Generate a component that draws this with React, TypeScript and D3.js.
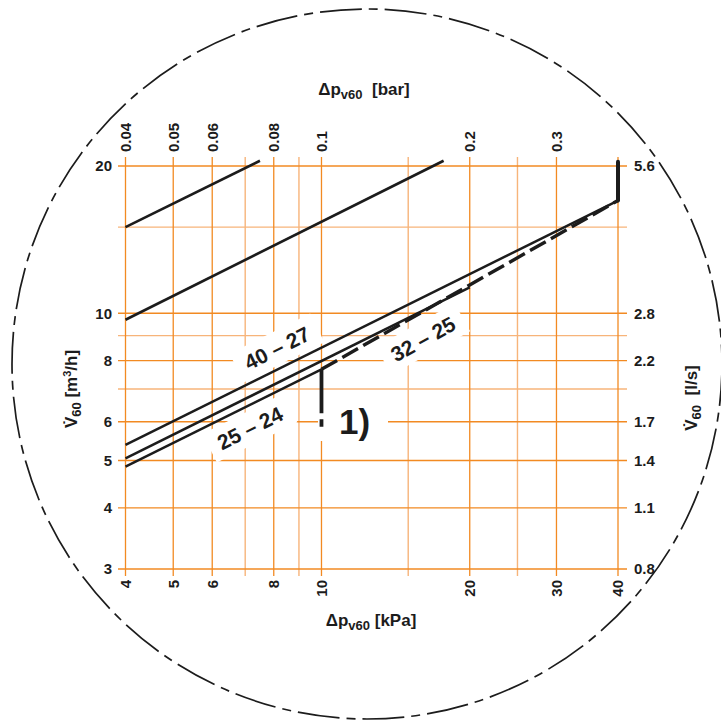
import React from "react";
import * as d3 from "d3";

// Pressure drop axis (kPa) — labelled and light grid values
const kpaTicks = [4, 5, 6, 8, 10, 20, 30, 40];
const kpaMinor = [7, 9, 15, 25];
// Secondary pressure scale (bar) placed on the same kPa positions
const barAt = [4, 5, 6, 8, 10, 20, 30];
const barLabels = ["0.04", "0.05", "0.06", "0.08", "0.1", "0.2", "0.3"];

// Flow axis (m³/h) and the matching l/s labels on the right
const flowTicks = [3, 4, 5, 6, 8, 10, 20];
const flowMinor = [7, 9, 15];
const lsLabels = ["0.8", "1.1", "1.4", "1.7", "2.2", "2.8", "5.6"];

// Characteristic lines: [kPa, m³/h] endpoints
const kvHighA: [number, number][] = [[4, 15], [7.5, 20.5]];
const kvHighB: [number, number][] = [[4, 9.7], [17.7, 20.5]];
const curve4027: [number, number][] = [[4, 5.38], [40, 17.0]];
const curveMid: [number, number][] = [[4, 5.05], [20, 11.3]];
const curve2524: [number, number][] = [[4, 4.86], [10, 7.68]];
const curve3225: [number, number][] = [[10, 7.68], [40, 17.0]];
const limit40: [number, number][] = [[40, 17.0], [40, 20.4]];
const limit10: [number, number][] = [[10, 7.68], [10, 5.86]];

const FONT = "'Liberation Sans', Arial, Helvetica, sans-serif";
const MAJOR = "#f28a22";
const MINOR = "#f7b47a";
const INK = "#1c1c1c";

export default function App() {
  const x = d3.scaleLog().domain([4, 40]).range([125.5, 618]);
  const y = d3.scaleLog().domain([3, 20]).range([569, 166]);
  const line = d3
    .line<[number, number]>()
    .x((d) => x(d[0]))
    .y((d) => y(d[1]));

  const gTop = 157;
  const gBottom = 576;
  const gLeft = 118;
  const gRight = 627;

  const labelBox = (cx: number, cy: number, angle: number, w: number, h: number) => (
    <rect
      x={-w / 2}
      y={-h / 2}
      width={w}
      height={h}
      fill="#fff"
      transform={`translate(${cx},${cy}) rotate(${angle})`}
    />
  );

  const curveLabel = (text: string, cx: number, cy: number, angle: number) => (
    <text
      transform={`translate(${cx},${cy}) rotate(${angle})`}
      textAnchor="middle"
      dy="0.36em"
      fontFamily={FONT}
      fontWeight="bold"
      fontSize={21}
      fill={INK}
    >
      {text}
    </text>
  );

  return (
    <svg width={721} height={725} style={{ display: "block", position: "absolute", left: 0, top: 0 }}>
      <rect width={721} height={725} fill="#fff" />

      {/* grid */}
      {kpaMinor.map((v) => (
        <line key={"xm" + v} x1={x(v)} x2={x(v)} y1={gTop} y2={gBottom} stroke={MINOR} strokeWidth={1.4} />
      ))}
      {flowMinor.map((v) => (
        <line key={"ym" + v} x1={gLeft} x2={gRight} y1={y(v)} y2={y(v)} stroke={MINOR} strokeWidth={1.4} />
      ))}
      {kpaTicks.map((v) => (
        <line key={"xg" + v} x1={x(v)} x2={x(v)} y1={gTop} y2={gBottom} stroke={MAJOR} strokeWidth={1.3} />
      ))}
      {flowTicks.map((v) => (
        <line key={"yg" + v} x1={gLeft} x2={gRight} y1={y(v)} y2={y(v)} stroke={MAJOR} strokeWidth={1.3} />
      ))}

      {/* label backgrounds */}
      {labelBox(277, 348, -26.5, 90, 32)}
      {labelBox(250, 428, -26.5, 90, 32)}
      {labelBox(423, 339, -29, 90, 32)}
      <rect x={318} y={397} width={70} height={44} fill="#fff" />

      {/* characteristic lines */}
      <g fill="none" stroke={INK}>
        <path d={line(kvHighA)!} strokeWidth={2.6} />
        <path d={line(kvHighB)!} strokeWidth={2.6} />
        <path d={line(curve4027)!} strokeWidth={2.5} />
        <path d={line(curveMid)!} strokeWidth={2.5} />
        <path d={line(curve2524)!} strokeWidth={2.5} />
        <path d={line(curve3225)!} strokeWidth={3.4} strokeDasharray="18 6" />
        <path d={line(limit40)!} strokeWidth={4} strokeLinecap="round" />
        <path d={line(limit10)!} strokeWidth={3.8} strokeDasharray="44 6 8" />
      </g>

      {curveLabel("40 – 27", 277, 348, -26.5)}
      {curveLabel("25 – 24", 250, 428, -26.5)}
      {curveLabel("32 – 25", 423, 339, -29)}
      <text x={339} y={434} fontFamily={FONT} fontWeight="bold" fontSize={35} fill={INK}>
        1)
      </text>

      {/* tick labels */}
      <g fontFamily={FONT} fontWeight="bold" fontSize={15} fill={INK}>
        {flowTicks.map((v) => (
          <text key={"yl" + v} x={112} y={y(v) + 5.3} textAnchor="end">
            {v}
          </text>
        ))}
        {flowTicks.map((v, i) => (
          <text key={"yr" + v} x={634} y={y(v) + 5.3} textAnchor="start">
            {lsLabels[i]}
          </text>
        ))}
        {kpaTicks.map((v) => (
          <text
            key={"xb" + v}
            transform={`translate(${x(v) + 5.4},${580}) rotate(-90)`}
            textAnchor="end"
          >
            {v}
          </text>
        ))}
        {barAt.map((v, i) => (
          <text
            key={"xt" + v}
            transform={`translate(${x(v) + 5.4},${152}) rotate(-90)`}
            textAnchor="start"
          >
            {barLabels[i]}
          </text>
        ))}
      </g>

      {/* axis titles */}
      <g fontFamily={FONT} fontWeight="bold" fill={INK}>
        <text x={364} y={95} textAnchor="middle" fontSize={17}>
          Δp
          <tspan fontSize={13} dy={4}>v60</tspan>
          <tspan dy={-4} xmlSpace="preserve">{"  [bar]"}</tspan>
        </text>
        <text x={371} y={626} textAnchor="middle" fontSize={17}>
          Δp
          <tspan fontSize={13} dy={4}>v60</tspan>
          <tspan dy={-4}>{" [kPa]"}</tspan>
        </text>
        <text transform="translate(77,389) rotate(-90)" textAnchor="middle" fontSize={17}>
          V̇
          <tspan fontSize={13} dy={4}>60</tspan>
          <tspan dy={-4}>{" [m"}</tspan>
          <tspan fontSize={11} dy={-6}>3</tspan>
          <tspan dy={6}>/h]</tspan>
        </text>
        <text transform="translate(697,398) rotate(-90)" textAnchor="middle" fontSize={17}>
          V̇
          <tspan fontSize={13} dy={4}>60</tspan>
          <tspan dy={-4} xmlSpace="preserve">{"  [l/s]"}</tspan>
        </text>
      </g>

      {/* surrounding dash-dot circle */}
      <circle
        cx={367}
        cy={364}
        r={355}
        fill="none"
        stroke={INK}
        strokeWidth={1.7}
        strokeDasharray="42 7 9 7"
      />
    </svg>
  );
}
